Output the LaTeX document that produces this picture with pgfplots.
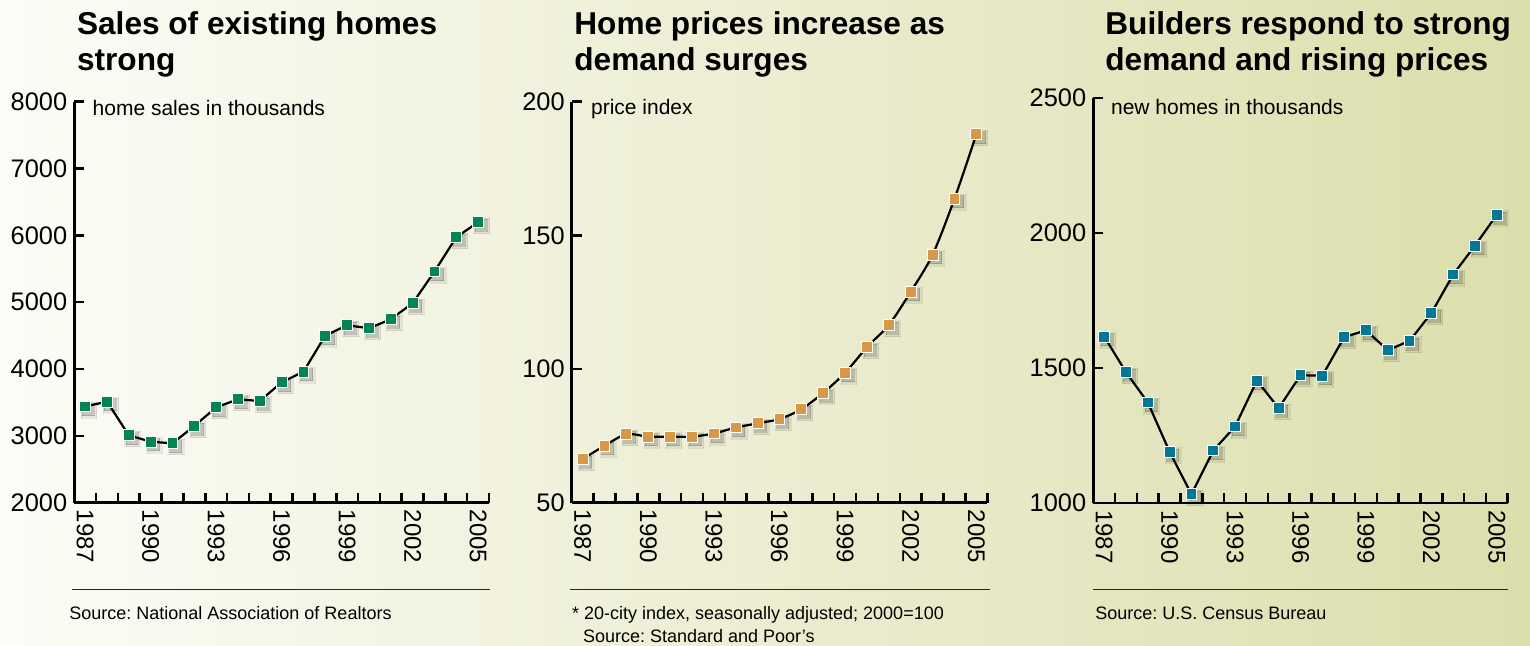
\documentclass[border=0pt]{standalone}
\usepackage{fontspec}
\setmainfont{Liberation Sans}
\usepackage{pgfplots}
\usepackage{pgfplotstable}
\pgfplotsset{compat=1.18}
\frenchspacing
\definecolor{bgL}{RGB}{252,252,247}
\definecolor{bgR}{RGB}{220,222,172}
\definecolor{mgreen}{RGB}{0,133,84}
\definecolor{morange}{RGB}{217,152,72}
\definecolor{mteal}{RGB}{0,120,150}

\pgfplotstableread{
year v
1987 3440
1988 3512
1989 3008
1990 2913
1991 2888
1992 3148
1993 3427
1994 3547
1995 3522
1996 3801
1997 3961
1998 4500
1999 4655
2000 4610
2001 4745
2002 4984
2003 5458
2004 5972
2005 6197
}\sales

\pgfplotstableread{
year v
1987 66.3
1988 71.3
1989 75.6
1990 74.7
1991 74.7
1992 74.7
1993 75.9
1994 78.1
1995 79.7
1996 81.3
1997 85.0
1998 91.1
1999 98.6
2000 108.2
2001 116.5
2002 128.9
2003 142.8
2004 163.7
2005 187.8
}\prices

\pgfplotstableread{
year v
1987 1617
1988 1485
1989 1373
1990 1190
1991 1033
1992 1195
1993 1284
1994 1454
1995 1352
1996 1474
1997 1472
1998 1615
1999 1640
2000 1567
2001 1601
2002 1704
2003 1847
2004 1954
2005 2068
}\starts

\pgfplotsset{
 hp/.style={
  scale only axis,
  anchor=south west,
  xmin=1986.5, xmax=2005.5,
  axis x line*=bottom, axis y line*=left,
  axis line style={line width=1.3pt, black},
  tick align=inside,
  xtick={1986.5,1987.5,1988.5,1989.5,1990.5,1991.5,1992.5,1993.5,1994.5,1995.5,1996.5,1997.5,1998.5,1999.5,2000.5,2001.5,2002.5,2003.5,2004.5,2005.5},
  xticklabels={},
  extra x ticks={1987,1990,1993,1996,1999,2002,2005},
  extra x tick labels={1987,1990,1993,1996,1999,2002,2005},
  extra x tick style={major tick length=0pt, xticklabel style={rotate=-90, anchor=west, font=\fontsize{12}{12}\selectfont}},
  major tick length=5pt,
  major tick style={line width=1.3pt, black},
  yticklabel style={font=\fontsize{12.7}{13}\selectfont},
  /pgf/number format/assume math mode=true,
  /pgf/number format/1000 sep={},
  clip=false,
 },
 shadowA/.style={only marks, mark=square*, mark size=3.9pt,
   mark options={draw=black, fill=black, line width=0pt, opacity=0.07, xshift=1.9pt, yshift=-1.9pt}},
 shadowB/.style={only marks, mark=square*, mark size=3.0pt,
   mark options={draw=black, fill=black, line width=0pt, opacity=0.14, xshift=1.6pt, yshift=-1.6pt}},
 ser/.style={only marks, mark=square*, mark size=2.7pt, mark options={draw=white, fill=#1, line width=0.5pt}},
}

\begin{document}
\begin{tikzpicture}
\useasboundingbox (0,0) rectangle (765pt,323pt);
\shade[left color=bgL, right color=bgR] (0,0) rectangle (765pt,323pt);

% Panel 1
\begin{axis}[hp, at={(37.15pt,71.65pt)}, width=207.35pt, height=200.5pt,
  ymin=2000, ymax=8000, ytick={2000,3000,4000,5000,6000,7000,8000}]
\addplot[shadowA] table[x=year,y=v] {\sales};
\addplot[shadowB] table[x=year,y=v] {\sales};
\addplot[black, line width=1.1pt, mark=none] table[x=year,y=v] {\sales};
\addplot[ser=mgreen] table[x=year,y=v] {\sales};
\node[anchor=base west, font=\fontsize{10.5}{12}\selectfont, inner sep=0pt] at (rel axis cs:0,1) [xshift=9pt, yshift=-6.65pt] {home sales in thousands};
\end{axis}

% Panel 2
\begin{axis}[hp, at={(285.85pt,71.65pt)}, width=207.8pt, height=200.5pt,
  ymin=50, ymax=200, ytick={50,100,150,200}]
\addplot[shadowA] table[x=year,y=v] {\prices};
\addplot[shadowB] table[x=year,y=v] {\prices};
\addplot[black, line width=1.1pt, mark=none, smooth, tension=0.5] table[x=year,y=v] {\prices};
\addplot[ser=morange] table[x=year,y=v] {\prices};
\node[anchor=base west, font=\fontsize{10.5}{12}\selectfont, inner sep=0pt] at (rel axis cs:0,1) [xshift=9.5pt, yshift=-6.65pt] {price index};
\end{axis}

% Panel 3
\begin{axis}[hp, at={(546.65pt,71.4pt)}, width=207.2pt, height=202.5pt,
  ymin=1000, ymax=2500, ytick={1000,1500,2000,2500}]
\addplot[shadowA] table[x=year,y=v] {\starts};
\addplot[shadowB] table[x=year,y=v] {\starts};
\addplot[black, line width=1.1pt, mark=none] table[x=year,y=v] {\starts};
\addplot[ser=mteal] table[x=year,y=v] {\starts};
\node[anchor=base west, font=\fontsize{10.5}{12}\selectfont, inner sep=0pt] at (rel axis cs:0,1) [xshift=8.7pt, yshift=-8.3pt] {new homes in thousands};
\end{axis}

% Titles
\begin{scope}[every node/.style={anchor=base west, inner sep=0pt, font=\fontsize{15.8}{17.8}\selectfont\bfseries}]
\node at (38.35pt,305.5pt) {Sales of existing homes};
\node at (38.35pt,287.65pt) {strong};
\node at (287pt,305.5pt) {Home prices increase as};
\node at (287pt,287.65pt) {demand surges};
\node at (552.5pt,305.5pt) {Builders respond to strong};
\node at (552.5pt,287.65pt) {demand and rising prices};
\end{scope}

% Separators
\draw[line width=0.7pt, black!85] (36pt,28.3pt) -- (245pt,28.3pt);
\draw[line width=0.7pt, black!85] (285pt,28.3pt) -- (495pt,28.3pt);
\draw[line width=0.7pt, black!85] (546.5pt,28.3pt) -- (754pt,28.3pt);

% Sources
\begin{scope}[every node/.style={anchor=base west, inner sep=0pt, font=\fontsize{9}{11}\selectfont}]
\node at (34.5pt,13.35pt) {Source: National Association of Realtors};
\node at (285.85pt,13.35pt) {* 20-city index, seasonally adjusted; 2000=100};
\node at (291.35pt,1.85pt) {Source: Standard and Poor's};
\node at (547.5pt,13.35pt) {Source: U.S. Census Bureau};
\end{scope}
\end{tikzpicture}
\end{document}
